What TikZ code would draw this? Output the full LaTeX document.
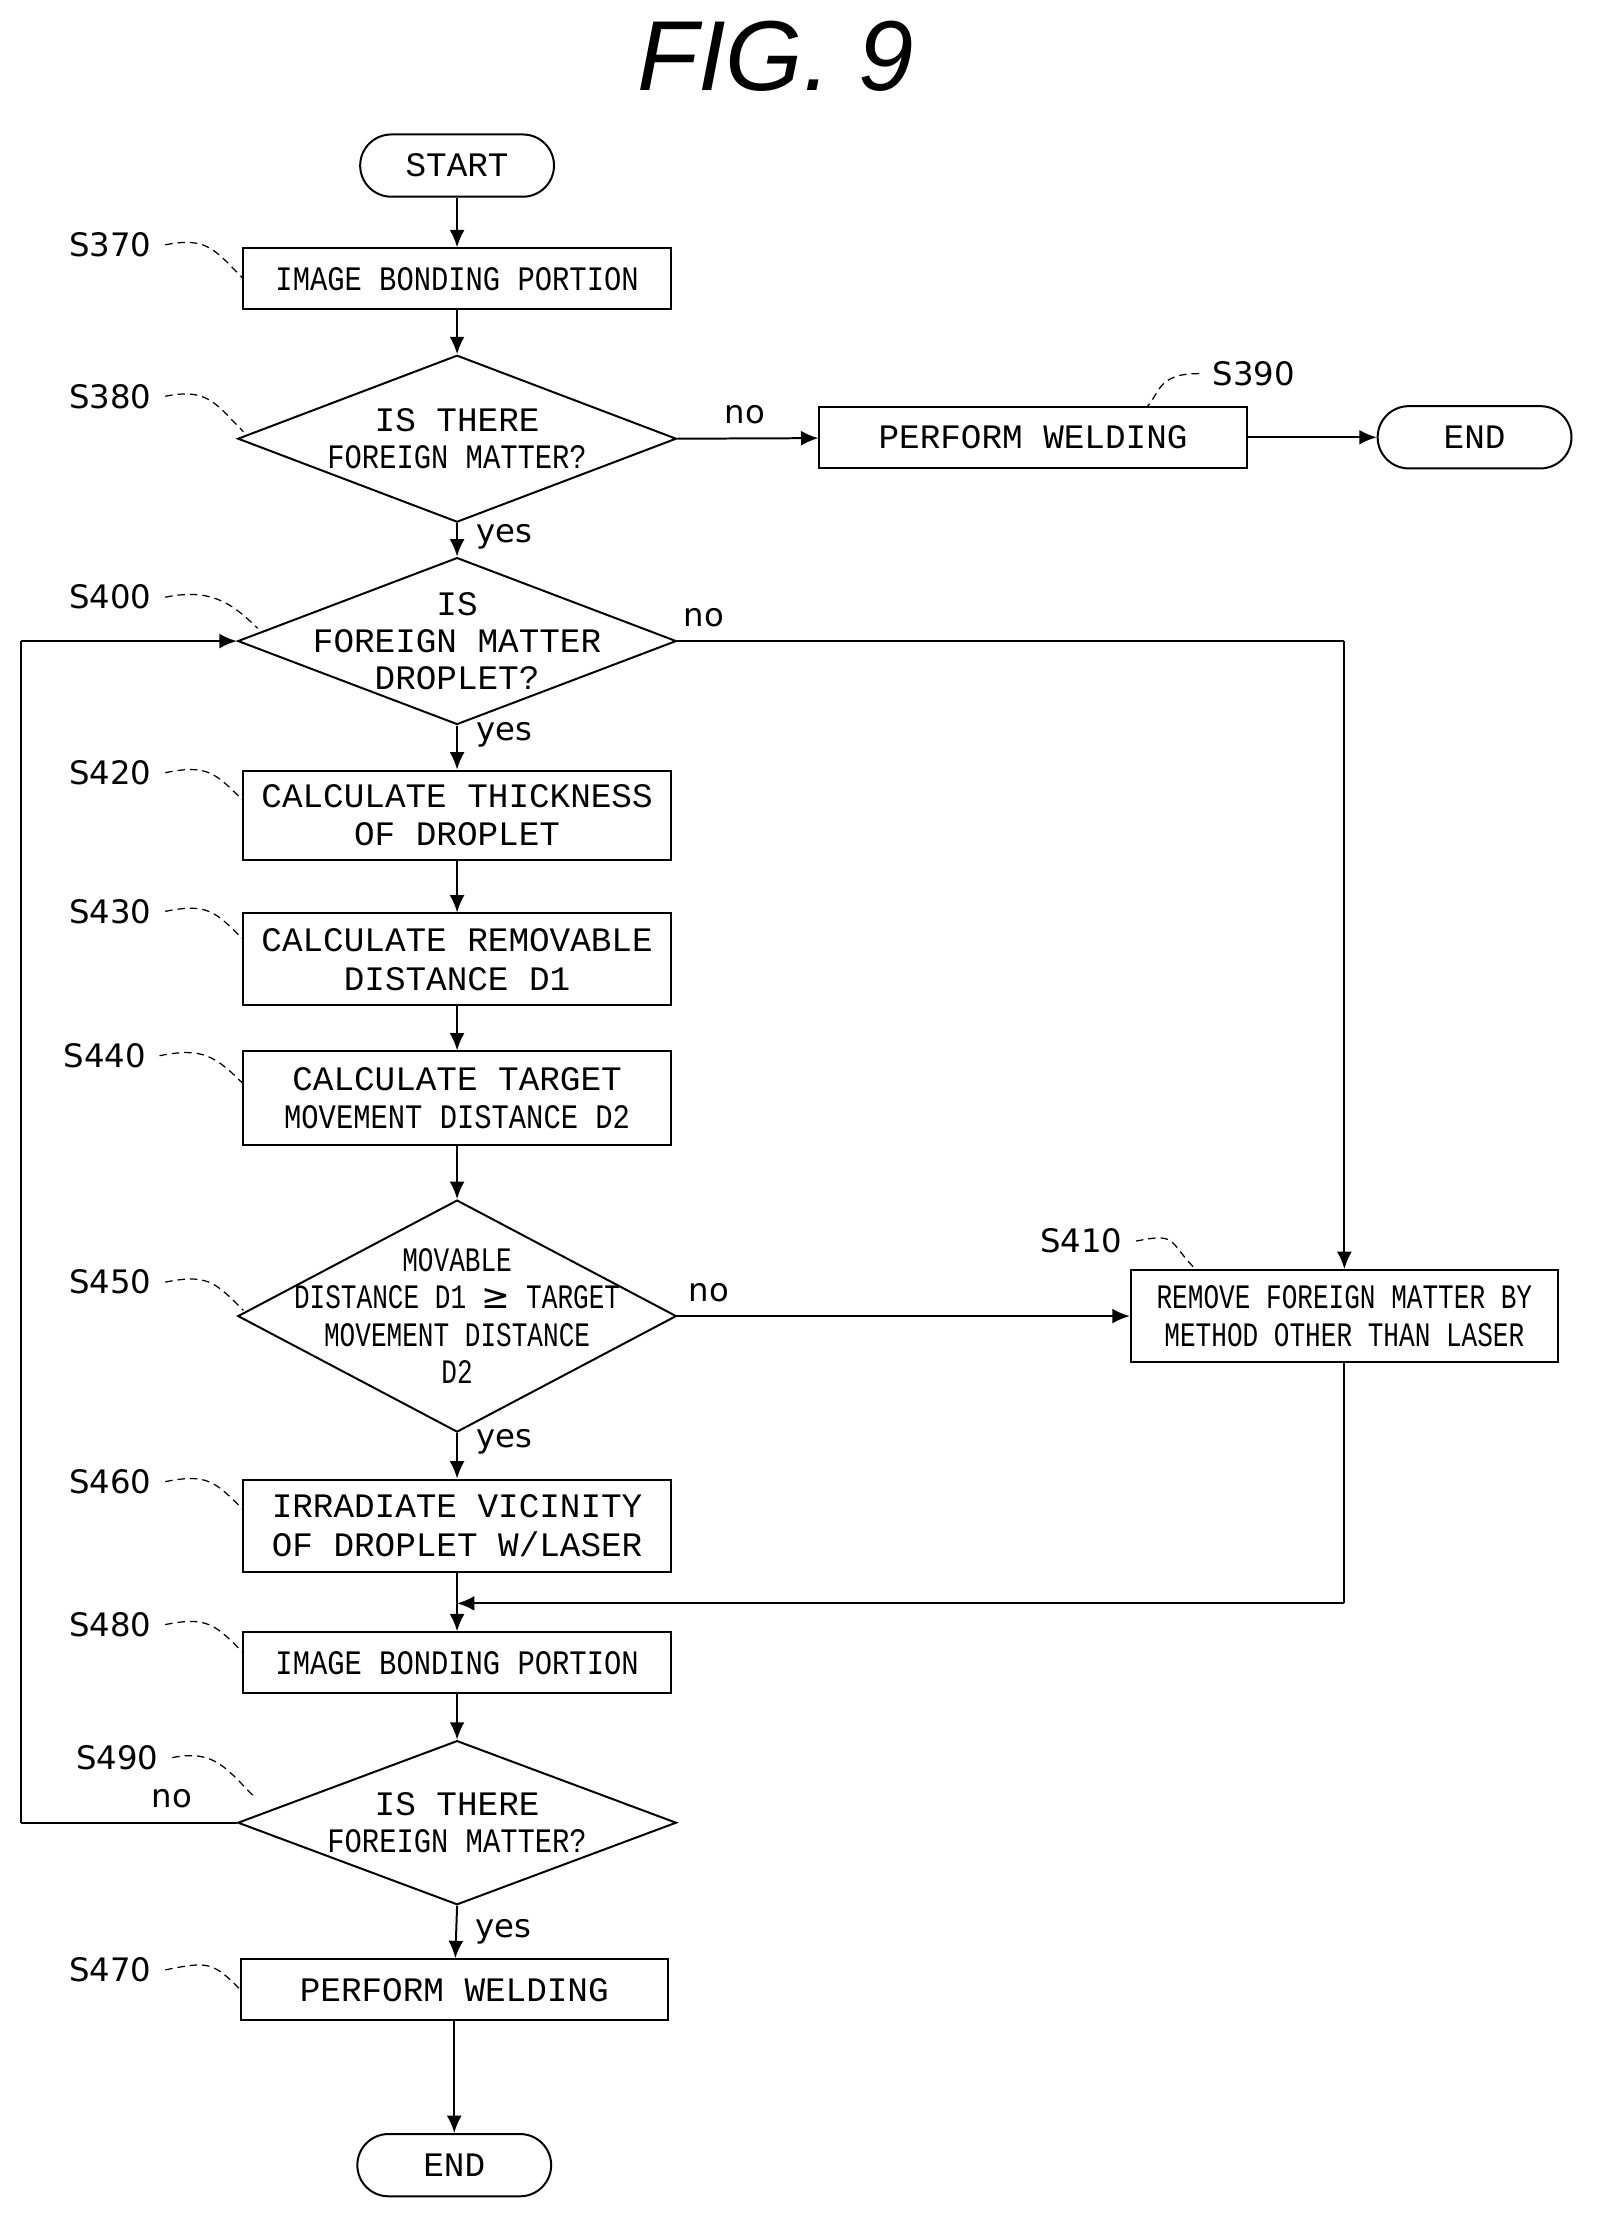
\documentclass[tikz,border=0pt]{standalone}
\usepackage{fontspec}
\setmainfont{Liberation Mono}
\newfontfamily\sansfont{DejaVu Sans}
\newfontfamily\figfont{Liberation Sans}
\newfontfamily\condfont{Liberation Mono}[FakeStretch=0.84]
\newfontfamily\narrowfont{Liberation Mono}[FakeStretch=0.76]
\usetikzlibrary{shapes.geometric,arrows.meta}
\begin{document}
\begin{tikzpicture}[x=0.02cm,y=-0.02cm]
    \tikzstyle{arrow} = [-{Latex[length=7pt,width=6pt]}, line width=0.8pt]
    \tikzstyle{line} = [line width=0.8pt]
    \tikzstyle{rec} = [rectangle, draw=black, line width=0.8pt, align=center,
        minimum width=6.04cm, minimum height=0.86cm, inner sep=1pt,
        font=\fontsize{13.8}{15.5}\selectfont]
    \tikzstyle{term} = [rectangle, rounded corners=0.44cm, draw=black,
        line width=0.8pt, minimum width=2.74cm, minimum height=0.88cm,
        font=\fontsize{13.8}{15.5}\selectfont]
    \tikzstyle{dec} = [diamond, draw=black, line width=0.8pt,
        minimum width=6.2cm, minimum height=2.36cm, inner sep=0pt]
    \tikzstyle{dtext} = [align=center, font=\fontsize{13.8}{15}\selectfont]
    \tikzstyle{tag} = [font=\sansfont\fontsize{13}{15}\selectfont]
    \tikzstyle{lead} = [densely dashed, line width=0.5pt]
    \tikzstyle{cond} = [font=\condfont\fontsize{13.8}{15}\selectfont]

    \useasboundingbox (0,0) rectangle (1130,1573);

    \node(title) [font=\figfont\itshape\fontsize{40}{40}\selectfont]
        at (548,40) {FIG. 9};

    \node(start) [term] at (323,117) {START};
    \node(s370) [rec, cond] at (323,197) {IMAGE BONDING PORTION};
    \node(d380) [dec] at (323,310) {};
    \node at (d380) [dtext] {IS THERE\\{\condfont FOREIGN MATTER?}};
    \node(s390) [rec] at (730,309) {PERFORM WELDING};
    \node(end1) [term] at (1042,309) {END};
    \node(d400) [dec] at (323,453) {};
    \node at (d400) [dtext] {IS\\FOREIGN MATTER\\DROPLET?};
    \node(s420) [rec, minimum height=1.26cm] at (323,576)
        {CALCULATE THICKNESS\\OF DROPLET};
    \node(s430) [rec, minimum height=1.3cm] at (323,678)
        {CALCULATE REMOVABLE\\DISTANCE D1};
    \node(s440) [rec, minimum height=1.32cm] at (323,776)
        {CALCULATE TARGET\\{\condfont MOVEMENT DISTANCE D2}};
    \node(d450) [dec, minimum height=3.28cm] at (323,930) {};
    \node at (d450) [dtext, font=\narrowfont\fontsize{13.8}{15}\selectfont]
        {MOVABLE\\DISTANCE D1 {\sansfont\char"2265} TARGET\\MOVEMENT DISTANCE\\D2};
    \node(s410) [rec, font=\narrowfont\fontsize{13.8}{15.5}\selectfont,
        minimum height=1.3cm] at (950,930)
        {REMOVE FOREIGN MATTER BY\\METHOD OTHER THAN LASER};
    \node(s460) [rec, minimum height=1.3cm] at (323,1078)
        {IRRADIATE VICINITY\\OF DROPLET W/LASER};
    \node(s480) [rec, cond] at (323,1175) {IMAGE BONDING PORTION};
    \node(d490) [dec, minimum height=2.32cm] at (323,1288) {};
    \node at (d490) [dtext] {IS THERE\\{\condfont FOREIGN MATTER?}};
    \node(s470) [rec] at (321,1406) {PERFORM WELDING};
    \node(end2) [term] at (321,1530) {END};

    \coordinate(loopb) at (15,1288);
    \coordinate(loopt) at (15,453);
    \coordinate(rtop) at (950,453);
    \coordinate(rbot) at (950,1133);
    \coordinate(join) at (323,1133);

    \draw[arrow] (start) -- (s370);
    \draw[arrow] (s370) -- (d380);
    \draw[arrow] (d380.east) -- node[tag, pos=0.48, above=2pt] {no} (s390);
    \draw[arrow] (s390) -- (end1);
    \draw[arrow] (d380.south) -- node[tag, right=4pt, pos=0.4] {yes} (d400.north);
    \draw[arrow] (d400.south) -- node[tag, right=4pt, pos=0.2] {yes} (s420);
    \draw[arrow] (s420) -- (s430);
    \draw[arrow] (s430) -- (s440);
    \draw[arrow] (s440) -- (d450.north);
    \draw[arrow] (d450.east) -- node[tag, pos=0.07, above=2pt] {no} (s410);
    \draw[arrow] (d450.south) -- node[tag, right=4pt, pos=0.2] {yes} (s460);
    \draw[arrow] (s460) -- (s480);
    \draw[arrow] (s480) -- (d490.north);
    \draw[arrow] (d490.south) -- node[tag, right=4pt, pos=0.5] {yes} (s470);
    \draw[arrow] (s470) -- (end2);
    \draw[line] (d400.east) -- node[tag, pos=0.04, above=2pt] {no} (rtop);
    \draw[arrow] (rtop) -- (s410.north);
    \draw[line] (s410.south) -- (rbot);
    \draw[arrow] (rbot) -- (join);
    \draw[line] (d490.west) -- node[tag, pos=0.3, above=2pt] {no} (loopb);
    \draw[line] (loopb) -- (loopt);
    \draw[arrow] (loopt) -- (d400.west);

    % step tags
    \foreach \name/\lx/\ly/\tx/\ty in {S370/78/173/172/197, S380/78/280/172/305,
        S400/78/422/182/444, S420/78/546/172/566,
        S430/78/644/172/664, S440/74/746/172/766, S450/78/906/172/926,
        S410/764/877/845/897, S460/78/1047/172/1067, S480/78/1148/172/1168,
        S490/83/1242/180/1270, S470/78/1392/170/1406} {
        \node(t\name) [tag, anchor=center] at (\lx,\ly) {\name};
        \draw[lead] ([xshift=2pt]t\name.east) .. controls +(30,-6) and +(-20,-20) .. (\tx,\ty);
    }
    \node(tS390) [tag] at (886,264) {S390};
    \draw[lead] ([xshift=-2pt]tS390.west) .. controls +(-30,0) and +(10,-10) .. (810,288);
\end{tikzpicture}
\end{document}
